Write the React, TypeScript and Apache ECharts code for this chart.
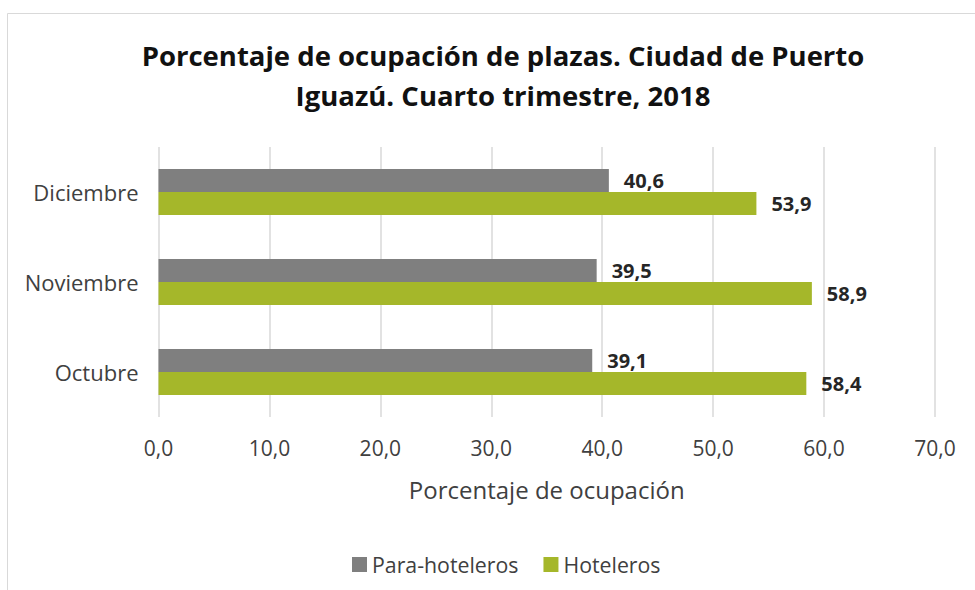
import React, { useEffect, useRef } from "react";
import * as echarts from "echarts";

const categories = ["Octubre", "Noviembre", "Diciembre"];
const paraHoteleros = [39.1, 39.5, 40.6];
const hoteleros = [58.4, 58.9, 53.9];
const seriesNames = ["Para-hoteleros", "Hoteleros"];
const titleText = "Porcentaje de ocupación de plazas. Ciudad de Puerto\nIguazú. Cuarto trimestre, 2018";
const axisName = "Porcentaje de ocupación";

const FONT = "'Open Sans', 'Noto Sans', sans-serif";
const fmt = (v: number) => v.toFixed(1).replace(".", ",");

export default function App() {
  const ref = useRef<HTMLDivElement>(null);
  useEffect(() => {
    if (!ref.current) return;
    const chart = echarts.init(ref.current, undefined, { renderer: "svg" });
    const barLabel = {
      show: true,
      position: "right",
      distance: 15,
      formatter: (p: any) => fmt(p.value),
      fontFamily: FONT,
      fontSize: 20,
      fontWeight: "bold",
      color: "#262626",
    };
    chart.setOption({
      animation: false,
      backgroundColor: "#ffffff",
      textStyle: { fontFamily: FONT },
      title: {
        text: titleText,
        left: 498,
        textAlign: "center",
        top: 30,
        textStyle: {
          fontFamily: FONT,
          fontSize: 27.5,
          fontWeight: "bold",
          color: "#111111",
          lineHeight: 40,
        },
      },
      graphic: [
        { type: "line", shape: { x1: 7.5, y1: 13.5, x2: 975, y2: 13.5 }, style: { stroke: "#d9d9d9", lineWidth: 1 } },
        { type: "line", shape: { x1: 7.5, y1: 13.5, x2: 7.5, y2: 590 }, style: { stroke: "#d9d9d9", lineWidth: 1 } },
      ],
      legend: {
        data: seriesNames,
        top: 549,
        left: 347,
        itemWidth: 15,
        itemHeight: 15,
        itemGap: 25,
        icon: "rect",
        textStyle: { fontFamily: FONT, fontSize: 21.3, color: "#404040" },
      },
      grid: { left: 158.5, right: 40, top: 147, bottom: 173, containLabel: false },
      xAxis: {
        type: "value",
        min: 0,
        max: 70,
        interval: 10,
        name: axisName,
        nameLocation: "middle",
        nameGap: 60,
        nameTextStyle: { fontFamily: FONT, fontSize: 24, color: "#404040" },
        axisLine: { show: false },
        axisTick: { show: false },
        splitLine: { show: true, lineStyle: { color: "#d9d9d9", width: 1.5 } },
        axisLabel: {
          formatter: (v: number) => fmt(v),
          margin: 20,
          fontFamily: FONT,
          fontSize: 21,
          color: "#404040",
        },
      },
      yAxis: {
        type: "category",
        data: categories,
        axisLine: { show: false },
        axisTick: { show: false },
        axisLabel: { margin: 20, fontFamily: FONT, fontSize: 22, color: "#404040" },
      },
      series: [
        {
          name: seriesNames[0],
          type: "bar",
          data: paraHoteleros,
          barWidth: 23,
          barGap: "0%",
          itemStyle: { color: "#7f7f7f" },
          label: barLabel,
        },
        {
          name: seriesNames[1],
          type: "bar",
          data: hoteleros,
          barWidth: 23,
          barGap: "0%",
          itemStyle: { color: "#a5b72a" },
          label: barLabel,
        },
      ],
    });
    return () => chart.dispose();
  }, []);
  return (
    <div
      ref={ref}
      style={{ position: "fixed", left: 0, top: 0, width: 975, height: 590 }}
    />
  );
}
